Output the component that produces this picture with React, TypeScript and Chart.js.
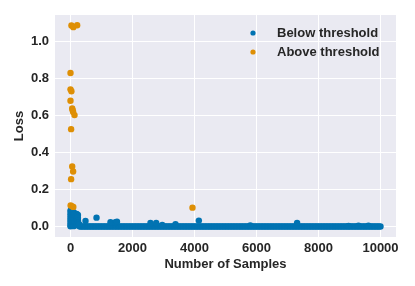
import React, { useEffect, useRef } from "react";
import { Chart, registerables } from "chart.js";

Chart.register(...registerables);

const seriesLabels = ["Below threshold", "Above threshold"];
const seriesColors = ["#0173B2", "#DE8F05"];
const xTickValues = [0, 2000, 4000, 6000, 8000, 10000];
const yTickValues = [0, 0.2, 0.4, 0.6, 0.8, 1.0];
const xTitle = "Number of Samples";
const yTitle = "Loss";

// [sample index, loss] — early dense cluster and scattered higher-loss samples
const belowThreshold: [number, number][] = [
  [0, 0.088], [0, 0.075], [0, 0.062], [0, 0.049], [0, 0.036], [0, 0.023], [0, 0.01], [0, 0.003],
  [20, 0.09], [20, 0.068], [20, 0.044], [20, 0.016],
  [50, 0.085], [50, 0.072], [50, 0.059], [50, 0.046], [50, 0.033], [50, 0.02], [50, 0.008],
  [100, 0.08], [100, 0.067], [100, 0.054], [100, 0.041], [100, 0.028], [100, 0.015], [100, 0.004],
  [150, 0.072], [150, 0.06], [150, 0.048], [150, 0.036], [150, 0.024], [150, 0.012],
  [200, 0.07], [200, 0.058], [200, 0.046], [200, 0.034], [200, 0.022], [200, 0.01],
  [240, 0.064], [240, 0.05], [240, 0.036], [240, 0.022], [240, 0.009],
  [280, 0.014],
  [484, 0.032], [839, 0.05], [1290, 0.025], [1450, 0.025], [1500, 0.028],
  [2580, 0.021], [2764, 0.021], [2960, 0.01], [3387, 0.014], [4140, 0.034],
  [5800, 0.008], [7310, 0.022], [8970, 0.005], [9290, 0.006], [9610, 0.006],
];

// long tail of samples with near-zero loss
const belowTail: [number, number][] = [
  [300, 0.002], [350, 0.002], [400, 0.002], [450, 0.002], [500, 0.002], [550, 0.002], [600, 0.002], [650, 0.002],
  [700, 0.002], [750, 0.002], [800, 0.002], [850, 0.002], [900, 0.002], [950, 0.002], [1000, 0.002], [1050, 0.002],
  [1100, 0.002], [1150, 0.002], [1200, 0.002], [1250, 0.002], [1300, 0.002], [1350, 0.002], [1400, 0.002], [1450, 0.002],
  [1500, 0.002], [1550, 0.002], [1600, 0.002], [1650, 0.002], [1700, 0.002], [1750, 0.002], [1800, 0.002], [1850, 0.002],
  [1900, 0.002], [1950, 0.002], [2000, 0.002], [2050, 0.002], [2100, 0.002], [2150, 0.002], [2200, 0.002], [2250, 0.002],
  [2300, 0.002], [2350, 0.002], [2400, 0.002], [2450, 0.002], [2500, 0.002], [2550, 0.002], [2600, 0.002], [2650, 0.002],
  [2700, 0.002], [2750, 0.002], [2800, 0.002], [2850, 0.002], [2900, 0.002], [2950, 0.002], [3000, 0.002], [3050, 0.002],
  [3100, 0.002], [3150, 0.002], [3200, 0.002], [3250, 0.002], [3300, 0.002], [3350, 0.002], [3400, 0.002], [3450, 0.002],
  [3500, 0.002], [3550, 0.002], [3600, 0.002], [3650, 0.002], [3700, 0.002], [3750, 0.002], [3800, 0.002], [3850, 0.002],
  [3900, 0.002], [3950, 0.002], [4000, 0.002], [4050, 0.002], [4100, 0.002], [4150, 0.002], [4200, 0.002], [4250, 0.002],
  [4300, 0.002], [4350, 0.002], [4400, 0.002], [4450, 0.002], [4500, 0.002], [4550, 0.002], [4600, 0.002], [4650, 0.002],
  [4700, 0.002], [4750, 0.002], [4800, 0.002], [4850, 0.002], [4900, 0.002], [4950, 0.002], [5000, 0.002], [5050, 0.002],
  [5100, 0.002], [5150, 0.002], [5200, 0.002], [5250, 0.002], [5300, 0.002], [5350, 0.002], [5400, 0.002], [5450, 0.002],
  [5500, 0.002], [5550, 0.002], [5600, 0.002], [5650, 0.002], [5700, 0.002], [5750, 0.002], [5800, 0.002], [5850, 0.002],
  [5900, 0.002], [5950, 0.002], [6000, 0.002], [6050, 0.002], [6100, 0.002], [6150, 0.002], [6200, 0.002], [6250, 0.002],
  [6300, 0.002], [6350, 0.002], [6400, 0.002], [6450, 0.002], [6500, 0.002], [6550, 0.002], [6600, 0.002], [6650, 0.002],
  [6700, 0.002], [6750, 0.002], [6800, 0.002], [6850, 0.002], [6900, 0.002], [6950, 0.002], [7000, 0.002], [7050, 0.002],
  [7100, 0.002], [7150, 0.002], [7200, 0.002], [7250, 0.002], [7300, 0.002], [7350, 0.002], [7400, 0.002], [7450, 0.002],
  [7500, 0.002], [7550, 0.002], [7600, 0.002], [7650, 0.002], [7700, 0.002], [7750, 0.002], [7800, 0.002], [7850, 0.002],
  [7900, 0.002], [7950, 0.002], [8000, 0.002], [8050, 0.002], [8100, 0.002], [8150, 0.002], [8200, 0.002], [8250, 0.002],
  [8300, 0.002], [8350, 0.002], [8400, 0.002], [8450, 0.002], [8500, 0.002], [8550, 0.002], [8600, 0.002], [8650, 0.002],
  [8700, 0.002], [8750, 0.002], [8800, 0.002], [8850, 0.002], [8900, 0.002], [8950, 0.002], [9000, 0.002], [9050, 0.002],
  [9100, 0.002], [9150, 0.002], [9200, 0.002], [9250, 0.002], [9300, 0.002], [9350, 0.002], [9400, 0.002], [9450, 0.002],
  [9500, 0.002], [9550, 0.002], [9600, 0.002], [9650, 0.002], [9700, 0.002], [9750, 0.002], [9800, 0.002], [9850, 0.002],
  [9900, 0.002], [9950, 0.002], [10000, 0.002],
];

const aboveThreshold: [number, number][] = [
  [30, 1.088], [90, 1.079], [215, 1.089],
  [0, 0.831], [0, 0.743], [30, 0.733], [0, 0.681],
  [55, 0.64], [70, 0.63], [85, 0.621], [130, 0.604], [20, 0.528],
  [55, 0.326], [85, 0.299], [20, 0.258],
  [5, 0.116], [55, 0.111], [90, 0.108],
  [3935, 0.104],
];

const FONT = "'Liberation Sans', Arial, Helvetica, sans-serif";
const TEXT = "#262626";

const bgLegendPlugin = {
  id: "bgLegend",
  beforeDraw(chart: any) {
    const { ctx, chartArea } = chart;
    ctx.save();
    ctx.fillStyle = "#EAEAF2";
    ctx.fillRect(chartArea.left, chartArea.top, chartArea.right - chartArea.left, chartArea.bottom - chartArea.top);
    ctx.restore();
  },
  afterDraw(chart: any) {
    const { ctx, chartArea } = chart;
    ctx.save();
    ctx.font = `bold 13px ${FONT}`;
    ctx.textBaseline = "middle";
    ctx.textAlign = "left";
    seriesLabels.forEach((label, i) => {
      const y = chartArea.top + 18 + i * 19;
      ctx.fillStyle = seriesColors[i];
      ctx.beginPath();
      ctx.arc(chartArea.right - 143, y, 2.6, 0, Math.PI * 2);
      ctx.fill();
      ctx.fillStyle = TEXT;
      ctx.fillText(label, chartArea.right - 119, y);
    });
    ctx.restore();
  },
};

export default function App() {
  const ref = useRef<HTMLCanvasElement>(null);
  useEffect(() => {
    if (!ref.current) return;
    const chart = new Chart(ref.current, {
      type: "scatter",
      data: {
        datasets: [
          {
            label: seriesLabels[0],
            data: belowTail.concat(belowThreshold).map(([x, y]) => ({ x, y })),
            backgroundColor: seriesColors[0],
            borderWidth: 0,
            pointRadius: 3.2,
            order: 1,
          },
          {
            label: seriesLabels[1],
            data: aboveThreshold.map(([x, y]) => ({ x, y })),
            backgroundColor: seriesColors[1],
            borderWidth: 0,
            pointRadius: 3.2,
            order: 0,
          },
        ],
      },
      options: {
        responsive: false,
        animation: false,
        events: [],
        layout: { padding: { left: 0, right: 19, top: 15, bottom: 0 } },
        plugins: { legend: { display: false }, tooltip: { enabled: false } },
        scales: {
          x: {
            type: "linear",
            min: -500,
            max: 10500,
            afterBuildTicks: (s: any) => {
              s.ticks = xTickValues.map((v) => ({ value: v }));
            },
            afterFit: (s: any) => {
              s.height = 49;
            },
            grid: { color: "#FFFFFF", lineWidth: 1, drawTicks: false },
            border: { display: false },
            ticks: {
              padding: 4,
              color: TEXT,
              font: { family: FONT, size: 13, weight: "bold" },
              callback: (v: any) => String(v),
              maxRotation: 0,
            },
            title: {
              display: true,
              text: xTitle,
              color: TEXT,
              font: { family: FONT, size: 13, weight: "bold" },
              padding: { top: 0, bottom: 14 },
            },
          },
          y: {
            type: "linear",
            min: -0.0545,
            max: 1.1445,
            afterBuildTicks: (s: any) => {
              s.ticks = yTickValues.map((v) => ({ value: v }));
            },
            afterFit: (s: any) => {
              s.width = 55;
            },
            grid: { color: "#FFFFFF", lineWidth: 1, drawTicks: false },
            border: { display: false },
            ticks: {
              padding: 6,
              color: TEXT,
              font: { family: FONT, size: 13, weight: "bold" },
              callback: (v: any) => Number(v).toFixed(1),
            },
            title: {
              display: true,
              text: yTitle,
              color: TEXT,
              font: { family: FONT, size: 13, weight: "bold" },
              padding: { top: 12, bottom: 0 },
            },
          },
        },
      },
      plugins: [bgLegendPlugin],
    });
    return () => chart.destroy();
  }, []);
  return (
    <div style={{ position: "absolute", left: 0, top: 0, width: 415, height: 286 }}>
      <canvas ref={ref} width={415} height={286} />
    </div>
  );
}
